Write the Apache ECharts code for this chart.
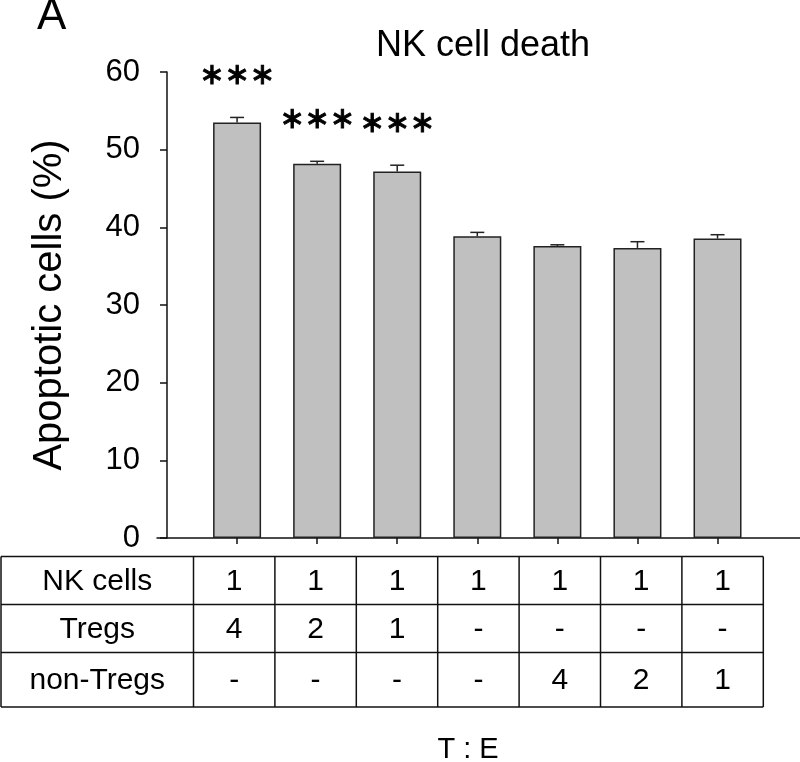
<!DOCTYPE html>
<html>
<head>
<meta charset="utf-8">
<script src="https://cdn.jsdelivr.net/npm/echarts@6/dist/echarts.min.js"></script>
<style>
  html, body { margin: 0; padding: 0; background: #fff; }
  #main { width: 800px; height: 762px; }
</style>
</head>
<body>
<div id="main"></div>
<script>
// bar values
var groups = ['1', '2', '3', '4', '5', '6', '7'];
var means = [53.5, 48.2, 47.2, 38.85, 37.6, 37.35, 38.55];
var errors = [0.65, 0.3, 0.8, 0.5, 0.15, 0.8, 0.5];
var stars = ['∗∗∗', '∗∗∗', '∗∗∗', '', '', '', ''];
var yTicks = [0, 10, 20, 30, 40, 50, 60];

// table under the chart
var rowNames = ['NK cells', 'Tregs', 'non-Tregs'];
var nkCells = ['1', '1', '1', '1', '1', '1', '1'];
var tregs = ['4', '2', '1', '-', '-', '-', '-'];
var nonTregs = ['-', '-', '-', '-', '4', '2', '1'];
var tableRows = [nkCells, tregs, nonTregs];

var font = 'Liberation Sans, Arial, sans-serif';
var barData = means.map(function (v, i) { return [i, v]; });
var errData = means.map(function (v, i) { return [i, v, v + errors[i]]; });

// table layout (pixels)
var tLeft = 1, tFirst = 193.5, tCol = 81.4;
var tRowY = [556.5, 604.5, 652.5, 707];

function buildTable() {
    var els = [];
    var tRight = tFirst + tCol * groups.length;
    // horizontal lines
    tRowY.forEach(function (y) {
        els.push({ type: 'line', shape: { x1: tLeft, y1: y, x2: tRight, y2: y },
            style: { stroke: '#111', lineWidth: 1.5 } });
    });
    // vertical lines
    var xs = [tLeft, tFirst];
    for (var c = 1; c <= groups.length; c++) xs.push(tFirst + tCol * c);
    xs.forEach(function (x) {
        els.push({ type: 'line', shape: { x1: x, y1: tRowY[0], x2: x, y2: tRowY[3] },
            style: { stroke: '#111', lineWidth: 1.5 } });
    });
    // texts
    for (var r = 0; r < rowNames.length; r++) {
        var cy = (tRowY[r] + tRowY[r + 1]) / 2 + 1;
        els.push({ type: 'text', x: (tLeft + tFirst) / 2, y: cy,
            style: { text: rowNames[r], font: '30px ' + font, fill: '#000', align: 'center', verticalAlign: 'middle' } });
        for (var k = 0; k < groups.length; k++) {
            els.push({ type: 'text', x: tFirst + tCol * (k + 0.5), y: cy,
                style: { text: tableRows[r][k], font: '30px ' + font, fill: '#000', align: 'center', verticalAlign: 'middle' } });
        }
    }
    els.push({ type: 'text', x: 468, y: 750,
        style: { text: 'T : E', font: '29px ' + font, fill: '#000', align: 'center', verticalAlign: 'middle' } });
    els.push({ type: 'text', x: 37, y: -5,
        style: { text: 'A', font: '44px ' + font, fill: '#000', align: 'left', verticalAlign: 'top' } });
    return els;
}

var myChart = echarts.init(document.getElementById('main'));
myChart.setOption({
    animation: false,
    backgroundColor: '#fff',
    title: {
        text: 'NK cell death',
        left: 478,
        top: 23,
        textAlign: 'center',
        textStyle: { fontFamily: font, fontSize: 36, fontWeight: 'normal', color: '#000' }
    },
    grid: { left: 157, right: 0, top: 72, bottom: 224 },
    xAxis: {
        type: 'value',
        min: -1,
        max: 7.03,
        axisLine: { onZero: false, lineStyle: { color: '#111', width: 1.5 } },
        axisTick: { show: true, length: 6, customValues: [0, 1, 2, 3, 4, 5, 6], lineStyle: { color: '#111', width: 1.5 } },
        axisLabel: { show: false },
        splitLine: { show: false }
    },
    yAxis: {
        type: 'value',
        min: 0,
        max: 60,
        interval: 10,
        offset: -10,
        name: 'Apoptotic cells (%)',
        nameLocation: 'middle',
        nameGap: 97,
        nameTextStyle: { fontFamily: font, fontSize: 40, color: '#000' },
        axisLine: { show: true, onZero: false, lineStyle: { color: '#111', width: 1.5 } },
        axisTick: { show: true, length: 7, lineStyle: { color: '#111', width: 1.5 } },
        axisLabel: {
            margin: 27,
            fontFamily: font,
            fontSize: 31,
            color: '#000',
            customValues: yTicks
        },
        splitLine: { show: false }
    },
    series: [
        {
            type: 'bar',
            data: barData,
            barWidth: 48,
            itemStyle: { color: '#c0c0c0', borderColor: '#222', borderWidth: 1.5 }
        },
        {
            type: 'custom',
            data: errData,
            z: 3,
            renderItem: function (params, api) {
                var x = api.value(0);
                var base = api.coord([x, api.value(1)]);
                var top = api.coord([x, api.value(2)]);
                var children = [
                    { type: 'line', shape: { x1: base[0], y1: base[1], x2: top[0], y2: top[1] },
                        style: { stroke: '#222', lineWidth: 1.5 } },
                    { type: 'line', shape: { x1: top[0] - 7, y1: top[1], x2: top[0] + 7, y2: top[1] },
                        style: { stroke: '#222', lineWidth: 1.5 } }
                ];
                var s = stars[params.dataIndex];
                if (s) {
                    children.push({ type: 'text', x: top[0], y: top[1] - 41,
                        style: { text: s, font: '30px DejaVu Sans', fill: '#000', stroke: '#000', lineWidth: 0.9,
                            align: 'center', verticalAlign: 'middle' } });
                }
                return { type: 'group', children: children };
            }
        }
    ],
    graphic: buildTable()
});
</script>
</body>
</html>
